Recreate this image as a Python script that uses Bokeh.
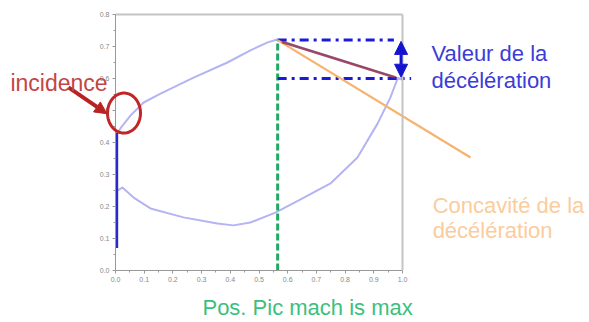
import numpy as np
from bokeh.plotting import figure
from bokeh.models import (Range1d, FixedTicker, Label, Arrow, NormalHead,
                          PolyAnnotation, LinearAxis)
from bokeh.embed import file_html
from bokeh.resources import INLINE

# --- data ---
upper_x = [0.007, 0.017, 0.052, 0.098, 0.157, 0.272, 0.390, 0.470, 0.530, 0.564,
           0.645, 0.749, 0.854, 0.941, 0.986, 1.0]
upper_y = [0.428, 0.444, 0.484, 0.525, 0.553, 0.603, 0.650, 0.688, 0.713, 0.722,
           0.697, 0.668, 0.638, 0.613, 0.601, 0.597]
lower_x = [0.007, 0.024, 0.063, 0.122, 0.237, 0.355, 0.411, 0.470, 0.557, 0.645,
           0.749, 0.843, 0.913, 0.958, 0.983, 1.0]
lower_y = [0.250, 0.259, 0.228, 0.194, 0.166, 0.147, 0.141, 0.150, 0.181, 0.222,
           0.272, 0.353, 0.459, 0.541, 0.600, 0.597]
incidence_x = [0.005, 0.005]
incidence_y = [0.07, 0.43]

peak_pos = 0.565        # Pos. Pic mach is max
peak_val = 0.72         # max value
end_val = 0.60          # trailing value
tangent_end = [1.237, 0.353]
chord_end = [0.976, 0.603]

x_ticks = [0.0, 0.1, 0.2, 0.3, 0.4, 0.5, 0.6, 0.7, 0.8, 0.9, 1.0]
y_ticks = [0.0, 0.1, 0.2, 0.3, 0.4, 0.5, 0.6, 0.7, 0.8]
x_labels = ["0.0", "0.1", "0.2", "0.3", "0.4", "0.5", "0.6", "0.7", "0.8", "0.9", "1.0"]
y_labels = ["0.0", "0.1", "0.2", "0.3", "0.4", "0.5", "0.6", "0.7", "0.8"]

W, H = 589, 322
X0, XS = 115, 287      # canvas pixel of x=0, pixels per unit x
Y0, YS = 270, 320      # canvas pixel of y=0, pixels per unit y
# frame covers the whole canvas; the axes are pinned inside it
p = figure(width=W, height=H, output_backend="svg", toolbar_location=None,
           x_range=Range1d(-X0 / XS, (W - X0) / XS),
           y_range=Range1d((Y0 - H) / YS, Y0 / YS),
           x_axis_location=None, y_axis_location=None,
           min_border=0)
p.grid.visible = False
p.background_fill_color = "white"
p.border_fill_color = "white"
p.outline_line_color = None

xmin, xmax = x_ticks[0], x_ticks[-1]
ymin, ymax = y_ticks[0], y_ticks[-1]

def style_axis(ax, ticks, labels):
    minors = [t + 0.05 for t in ticks[:-1]]
    ax.ticker = FixedTicker(ticks=ticks, minor_ticks=minors)
    ax.major_label_overrides = {t: l for t, l in zip(ticks, labels)}
    ax.axis_line_color = "#999999"
    ax.major_tick_line_color = "#999999"
    ax.minor_tick_line_color = "#999999"
    ax.major_tick_in = 0
    ax.major_tick_out = 3
    ax.minor_tick_in = 0
    ax.minor_tick_out = 2
    ax.major_label_text_font_size = "7px"
    ax.major_label_text_color = "#888888"
    ax.major_label_text_font = "Liberation Sans"
    ax.major_label_standoff = 3

xax = LinearAxis(fixed_location=ymin, bounds=(xmin, xmax))
yax = LinearAxis(fixed_location=xmin, bounds=(ymin, ymax))
style_axis(xax, x_ticks, x_labels)
style_axis(yax, y_ticks, y_labels)
p.add_layout(xax, "below")
p.add_layout(yax, "left")

# box edges (top and right)
for ax, side in ((LinearAxis(fixed_location=ymax, bounds=(xmin, xmax)), "above"),
                 (LinearAxis(fixed_location=xmax, bounds=(ymin, ymax)), "right")):
    ax.axis_line_color = "#c4c4c4"
    ax.axis_line_width = 2
    ax.major_tick_line_color = None
    ax.minor_tick_line_color = None
    ax.major_label_text_font_size = "0px"
    ax.major_label_text_alpha = 0
    p.add_layout(ax, side)

curve_col = "#b4b4f2"
p.line(upper_x, upper_y, line_color=curve_col, line_width=2)
p.line(lower_x, lower_y, line_color=curve_col, line_width=2)
p.line(incidence_x, incidence_y, line_color="#2a2ac8", line_width=2.5)

# green dashed position of peak
p.line([peak_pos, peak_pos], [ymin, peak_val], line_color="#22a862", line_width=3,
       line_dash="7 3")
# blue dash-dot levels
p.line([peak_pos, 0.97], [peak_val, peak_val], line_color="#1a1ad8", line_width=3,
       line_dash="9 5 3 5")
p.line([peak_pos, 1.03], [end_val, end_val], line_color="#1a1ad8", line_width=3,
       line_dash="9 5 3 5")

# orange tangent
p.line([peak_pos, tangent_end[0]], [peak_val, tangent_end[1]],
       line_color="#f6b26e", line_width=2.2)
# dark red chord
p.line([0.58, chord_end[0]], [0.714, chord_end[1]],
       line_color="#8e2c44", line_width=2.6, line_alpha=0.8)

# double arrow for deceleration value
p.add_layout(Arrow(start=NormalHead(size=13, fill_color="#1414d0", line_color="#1414d0"),
                   end=NormalHead(size=13, fill_color="#1414d0", line_color="#1414d0"),
                   x_start=0.995, y_start=end_val + 0.004, x_end=0.995, y_end=peak_val - 0.004,
                   line_color="#1414d0", line_width=3))

# red circle around incidence
t = np.linspace(0, 2 * np.pi, 60)
cx, cy, rx, ry = 0.0296, 0.492, 0.0575, 0.0625
p.add_layout(PolyAnnotation(xs=list(cx + rx * np.cos(t)), ys=list(cy + ry * np.sin(t)),
                            fill_alpha=0, line_color="#c02626", line_alpha=1,
                            line_width=3))
# red arrow
p.add_layout(Arrow(end=NormalHead(size=12, fill_color="#b82222", line_color="#b82222"),
                   x_start=-0.164, y_start=0.572, x_end=-0.030, y_end=0.490,
                   line_color="#b82222", line_width=4))

def lab(text, x, y, size, color):
    p.add_layout(Label(x=x, y=y, text=text, text_font="Liberation Sans",
                       text_font_size=size, text_color=color,
                       text_baseline="alphabetic", text_align="left"))

lab("incidence", -0.366, 0.5875, "23px", "#c24646")
lab("Valeur de la", 1.101, 0.678, "22px", "#3c3cd6")
lab("décélération", 1.101, 0.594, "22px", "#3c3cd6")
lab("Concavité de la", 1.105, 0.203, "22px", "#fbcc9c")
lab("décélération", 1.105, 0.125, "22px", "#fbcc9c")
lab("Pos. Pic mach is max", 0.303, -0.116, "22px", "#3cbf7e")

open("out.html", "w").write(file_html(p, INLINE))
